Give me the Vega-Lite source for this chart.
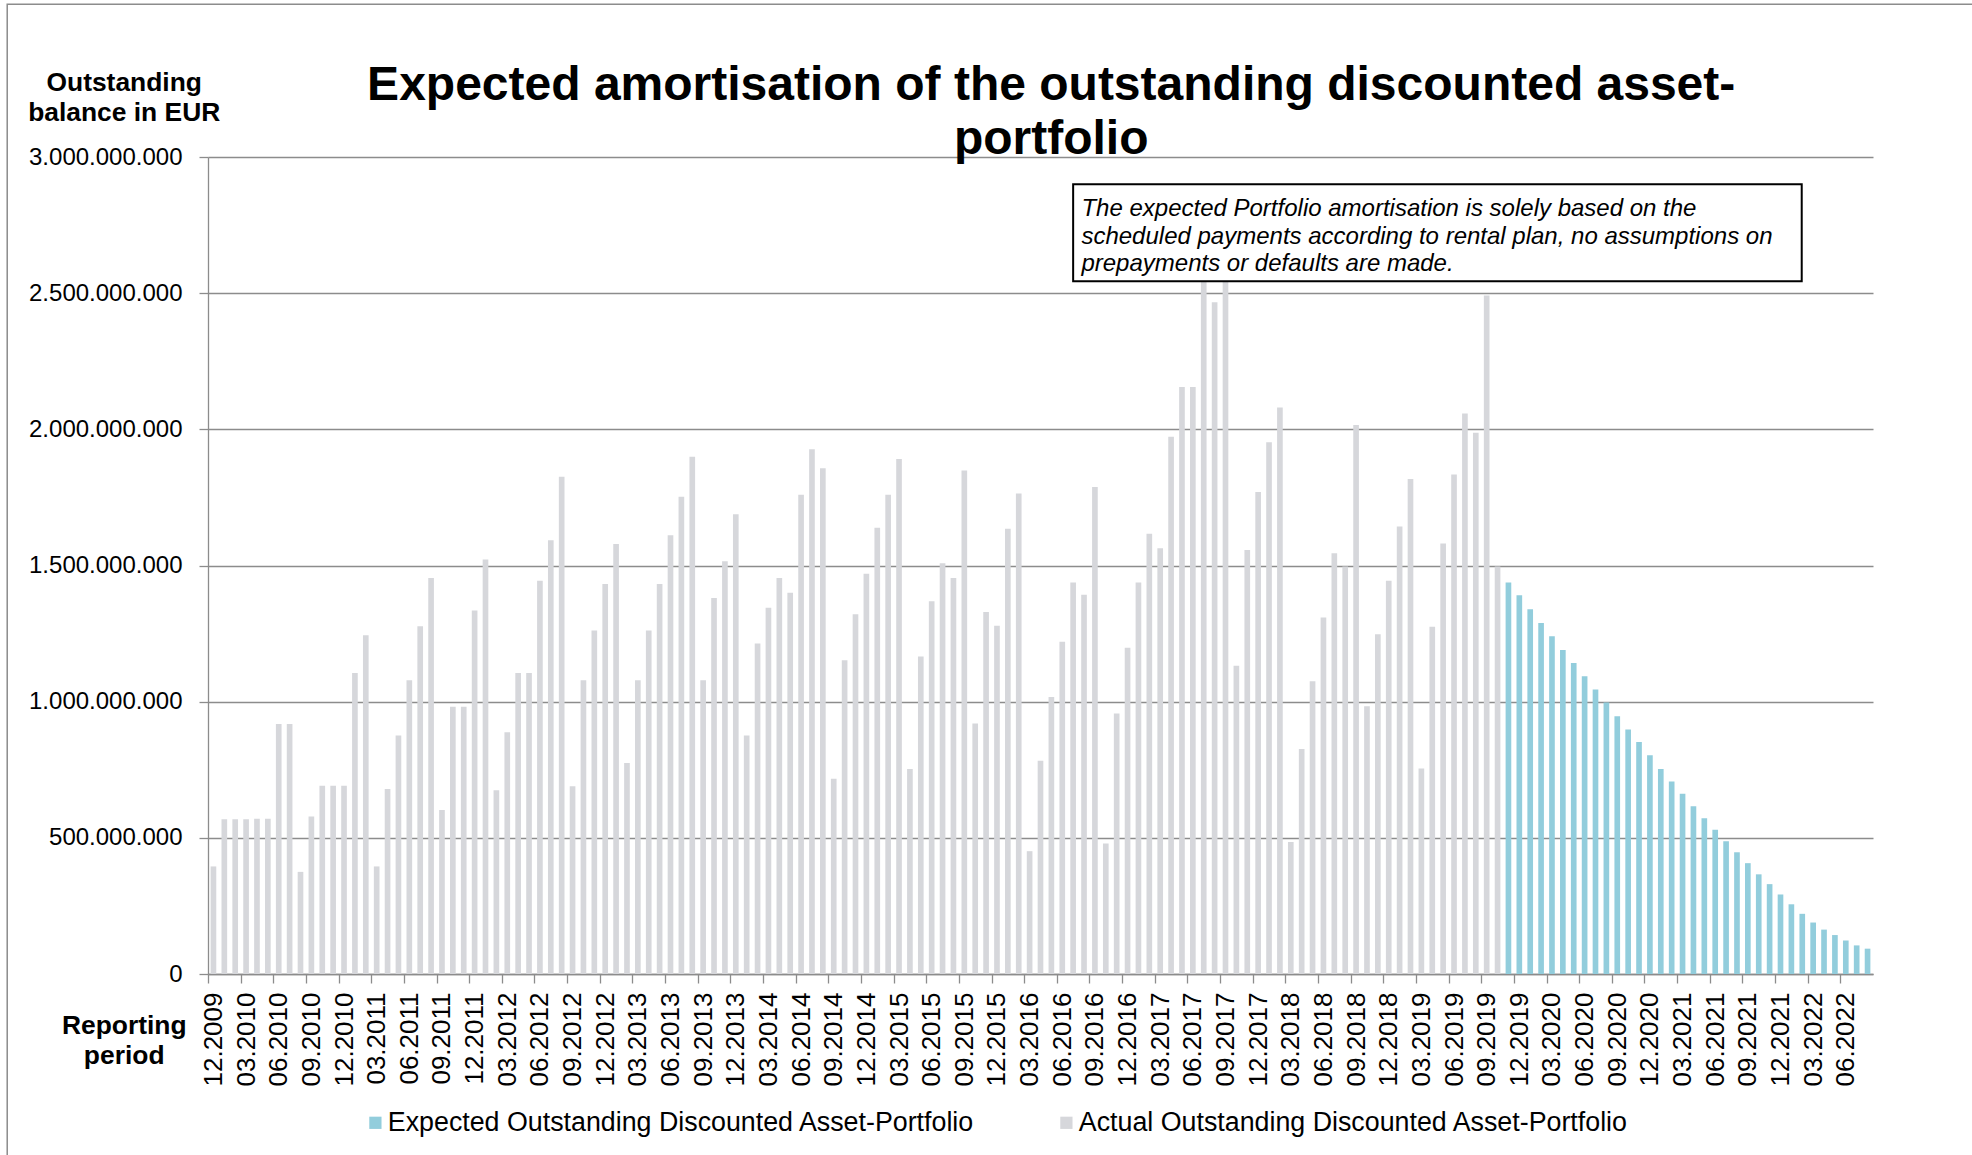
{
  "$schema": "https://vega.github.io/schema/vega-lite/v6.json",
  "width": 1665,
  "height": 817,
  "autosize": {"type": "none"},
  "padding": {"left": 208, "top": 157, "right": 99, "bottom": 181},
  "background": "white",
  "config": {
    "locale": {"number": {"decimal": ",", "thousands": ".", "grouping": [3], "currency": ["", " €"]}},
    "font": "Liberation Sans",
    "view": {"stroke": null}
  },
  "title": {
    "text": ["Expected amortisation of the outstanding discounted asset-", "portfolio"],
    "font": "Liberation Sans",
    "fontSize": 48,
    "fontWeight": "bold",
    "color": "black",
    "anchor": "middle",
    "frame": "group",
    "lineHeight": 54,
    "dx": 10.7,
    "offset": -161
  },
  "data": {
    "values": [
      {"p": "12.2009", "v": 395000000, "s": "Actual Outstanding Discounted Asset-Portfolio"},
      {"p": "01.2010", "v": 568000000, "s": "Actual Outstanding Discounted Asset-Portfolio"},
      {"p": "02.2010", "v": 568000000, "s": "Actual Outstanding Discounted Asset-Portfolio"},
      {"p": "03.2010", "v": 568000000, "s": "Actual Outstanding Discounted Asset-Portfolio"},
      {"p": "04.2010", "v": 570000000, "s": "Actual Outstanding Discounted Asset-Portfolio"},
      {"p": "05.2010", "v": 570000000, "s": "Actual Outstanding Discounted Asset-Portfolio"},
      {"p": "06.2010", "v": 918000000, "s": "Actual Outstanding Discounted Asset-Portfolio"},
      {"p": "07.2010", "v": 918000000, "s": "Actual Outstanding Discounted Asset-Portfolio"},
      {"p": "08.2010", "v": 375000000, "s": "Actual Outstanding Discounted Asset-Portfolio"},
      {"p": "09.2010", "v": 578000000, "s": "Actual Outstanding Discounted Asset-Portfolio"},
      {"p": "10.2010", "v": 691000000, "s": "Actual Outstanding Discounted Asset-Portfolio"},
      {"p": "11.2010", "v": 691000000, "s": "Actual Outstanding Discounted Asset-Portfolio"},
      {"p": "12.2010", "v": 691000000, "s": "Actual Outstanding Discounted Asset-Portfolio"},
      {"p": "01.2011", "v": 1105000000, "s": "Actual Outstanding Discounted Asset-Portfolio"},
      {"p": "02.2011", "v": 1244000000, "s": "Actual Outstanding Discounted Asset-Portfolio"},
      {"p": "03.2011", "v": 395000000, "s": "Actual Outstanding Discounted Asset-Portfolio"},
      {"p": "04.2011", "v": 679000000, "s": "Actual Outstanding Discounted Asset-Portfolio"},
      {"p": "05.2011", "v": 876000000, "s": "Actual Outstanding Discounted Asset-Portfolio"},
      {"p": "06.2011", "v": 1079000000, "s": "Actual Outstanding Discounted Asset-Portfolio"},
      {"p": "07.2011", "v": 1277000000, "s": "Actual Outstanding Discounted Asset-Portfolio"},
      {"p": "08.2011", "v": 1454000000, "s": "Actual Outstanding Discounted Asset-Portfolio"},
      {"p": "09.2011", "v": 602000000, "s": "Actual Outstanding Discounted Asset-Portfolio"},
      {"p": "10.2011", "v": 981000000, "s": "Actual Outstanding Discounted Asset-Portfolio"},
      {"p": "11.2011", "v": 981000000, "s": "Actual Outstanding Discounted Asset-Portfolio"},
      {"p": "12.2011", "v": 1335000000, "s": "Actual Outstanding Discounted Asset-Portfolio"},
      {"p": "01.2012", "v": 1522000000, "s": "Actual Outstanding Discounted Asset-Portfolio"},
      {"p": "02.2012", "v": 675000000, "s": "Actual Outstanding Discounted Asset-Portfolio"},
      {"p": "03.2012", "v": 888000000, "s": "Actual Outstanding Discounted Asset-Portfolio"},
      {"p": "04.2012", "v": 1105000000, "s": "Actual Outstanding Discounted Asset-Portfolio"},
      {"p": "05.2012", "v": 1105000000, "s": "Actual Outstanding Discounted Asset-Portfolio"},
      {"p": "06.2012", "v": 1444000000, "s": "Actual Outstanding Discounted Asset-Portfolio"},
      {"p": "07.2012", "v": 1593000000, "s": "Actual Outstanding Discounted Asset-Portfolio"},
      {"p": "08.2012", "v": 1826000000, "s": "Actual Outstanding Discounted Asset-Portfolio"},
      {"p": "09.2012", "v": 689000000, "s": "Actual Outstanding Discounted Asset-Portfolio"},
      {"p": "10.2012", "v": 1079000000, "s": "Actual Outstanding Discounted Asset-Portfolio"},
      {"p": "11.2012", "v": 1261000000, "s": "Actual Outstanding Discounted Asset-Portfolio"},
      {"p": "12.2012", "v": 1432000000, "s": "Actual Outstanding Discounted Asset-Portfolio"},
      {"p": "01.2013", "v": 1579000000, "s": "Actual Outstanding Discounted Asset-Portfolio"},
      {"p": "02.2013", "v": 775000000, "s": "Actual Outstanding Discounted Asset-Portfolio"},
      {"p": "03.2013", "v": 1079000000, "s": "Actual Outstanding Discounted Asset-Portfolio"},
      {"p": "04.2013", "v": 1261000000, "s": "Actual Outstanding Discounted Asset-Portfolio"},
      {"p": "05.2013", "v": 1432000000, "s": "Actual Outstanding Discounted Asset-Portfolio"},
      {"p": "06.2013", "v": 1611000000, "s": "Actual Outstanding Discounted Asset-Portfolio"},
      {"p": "07.2013", "v": 1752000000, "s": "Actual Outstanding Discounted Asset-Portfolio"},
      {"p": "08.2013", "v": 1899000000, "s": "Actual Outstanding Discounted Asset-Portfolio"},
      {"p": "09.2013", "v": 1079000000, "s": "Actual Outstanding Discounted Asset-Portfolio"},
      {"p": "10.2013", "v": 1381000000, "s": "Actual Outstanding Discounted Asset-Portfolio"},
      {"p": "11.2013", "v": 1516000000, "s": "Actual Outstanding Discounted Asset-Portfolio"},
      {"p": "12.2013", "v": 1688000000, "s": "Actual Outstanding Discounted Asset-Portfolio"},
      {"p": "01.2014", "v": 876000000, "s": "Actual Outstanding Discounted Asset-Portfolio"},
      {"p": "02.2014", "v": 1214000000, "s": "Actual Outstanding Discounted Asset-Portfolio"},
      {"p": "03.2014", "v": 1345000000, "s": "Actual Outstanding Discounted Asset-Portfolio"},
      {"p": "04.2014", "v": 1454000000, "s": "Actual Outstanding Discounted Asset-Portfolio"},
      {"p": "05.2014", "v": 1400000000, "s": "Actual Outstanding Discounted Asset-Portfolio"},
      {"p": "06.2014", "v": 1760000000, "s": "Actual Outstanding Discounted Asset-Portfolio"},
      {"p": "07.2014", "v": 1927000000, "s": "Actual Outstanding Discounted Asset-Portfolio"},
      {"p": "08.2014", "v": 1857000000, "s": "Actual Outstanding Discounted Asset-Portfolio"},
      {"p": "09.2014", "v": 717000000, "s": "Actual Outstanding Discounted Asset-Portfolio"},
      {"p": "10.2014", "v": 1152000000, "s": "Actual Outstanding Discounted Asset-Portfolio"},
      {"p": "11.2014", "v": 1321000000, "s": "Actual Outstanding Discounted Asset-Portfolio"},
      {"p": "12.2014", "v": 1470000000, "s": "Actual Outstanding Discounted Asset-Portfolio"},
      {"p": "01.2015", "v": 1639000000, "s": "Actual Outstanding Discounted Asset-Portfolio"},
      {"p": "02.2015", "v": 1760000000, "s": "Actual Outstanding Discounted Asset-Portfolio"},
      {"p": "03.2015", "v": 1891000000, "s": "Actual Outstanding Discounted Asset-Portfolio"},
      {"p": "04.2015", "v": 753000000, "s": "Actual Outstanding Discounted Asset-Portfolio"},
      {"p": "05.2015", "v": 1166000000, "s": "Actual Outstanding Discounted Asset-Portfolio"},
      {"p": "06.2015", "v": 1369000000, "s": "Actual Outstanding Discounted Asset-Portfolio"},
      {"p": "07.2015", "v": 1508000000, "s": "Actual Outstanding Discounted Asset-Portfolio"},
      {"p": "08.2015", "v": 1454000000, "s": "Actual Outstanding Discounted Asset-Portfolio"},
      {"p": "09.2015", "v": 1849000000, "s": "Actual Outstanding Discounted Asset-Portfolio"},
      {"p": "10.2015", "v": 920000000, "s": "Actual Outstanding Discounted Asset-Portfolio"},
      {"p": "11.2015", "v": 1329000000, "s": "Actual Outstanding Discounted Asset-Portfolio"},
      {"p": "12.2015", "v": 1279000000, "s": "Actual Outstanding Discounted Asset-Portfolio"},
      {"p": "01.2016", "v": 1635000000, "s": "Actual Outstanding Discounted Asset-Portfolio"},
      {"p": "02.2016", "v": 1764000000, "s": "Actual Outstanding Discounted Asset-Portfolio"},
      {"p": "03.2016", "v": 451000000, "s": "Actual Outstanding Discounted Asset-Portfolio"},
      {"p": "04.2016", "v": 783000000, "s": "Actual Outstanding Discounted Asset-Portfolio"},
      {"p": "05.2016", "v": 1017000000, "s": "Actual Outstanding Discounted Asset-Portfolio"},
      {"p": "06.2016", "v": 1220000000, "s": "Actual Outstanding Discounted Asset-Portfolio"},
      {"p": "07.2016", "v": 1438000000, "s": "Actual Outstanding Discounted Asset-Portfolio"},
      {"p": "08.2016", "v": 1393000000, "s": "Actual Outstanding Discounted Asset-Portfolio"},
      {"p": "09.2016", "v": 1788000000, "s": "Actual Outstanding Discounted Asset-Portfolio"},
      {"p": "10.2016", "v": 479000000, "s": "Actual Outstanding Discounted Asset-Portfolio"},
      {"p": "11.2016", "v": 957000000, "s": "Actual Outstanding Discounted Asset-Portfolio"},
      {"p": "12.2016", "v": 1198000000, "s": "Actual Outstanding Discounted Asset-Portfolio"},
      {"p": "01.2017", "v": 1438000000, "s": "Actual Outstanding Discounted Asset-Portfolio"},
      {"p": "02.2017", "v": 1617000000, "s": "Actual Outstanding Discounted Asset-Portfolio"},
      {"p": "03.2017", "v": 1563000000, "s": "Actual Outstanding Discounted Asset-Portfolio"},
      {"p": "04.2017", "v": 1973000000, "s": "Actual Outstanding Discounted Asset-Portfolio"},
      {"p": "05.2017", "v": 2155000000, "s": "Actual Outstanding Discounted Asset-Portfolio"},
      {"p": "06.2017", "v": 2155000000, "s": "Actual Outstanding Discounted Asset-Portfolio"},
      {"p": "07.2017", "v": 2620000000, "s": "Actual Outstanding Discounted Asset-Portfolio"},
      {"p": "08.2017", "v": 2467000000, "s": "Actual Outstanding Discounted Asset-Portfolio"},
      {"p": "09.2017", "v": 2620000000, "s": "Actual Outstanding Discounted Asset-Portfolio"},
      {"p": "10.2017", "v": 1132000000, "s": "Actual Outstanding Discounted Asset-Portfolio"},
      {"p": "11.2017", "v": 1557000000, "s": "Actual Outstanding Discounted Asset-Portfolio"},
      {"p": "12.2017", "v": 1770000000, "s": "Actual Outstanding Discounted Asset-Portfolio"},
      {"p": "01.2018", "v": 1953000000, "s": "Actual Outstanding Discounted Asset-Portfolio"},
      {"p": "02.2018", "v": 2080000000, "s": "Actual Outstanding Discounted Asset-Portfolio"},
      {"p": "03.2018", "v": 485000000, "s": "Actual Outstanding Discounted Asset-Portfolio"},
      {"p": "04.2018", "v": 826000000, "s": "Actual Outstanding Discounted Asset-Portfolio"},
      {"p": "05.2018", "v": 1075000000, "s": "Actual Outstanding Discounted Asset-Portfolio"},
      {"p": "06.2018", "v": 1309000000, "s": "Actual Outstanding Discounted Asset-Portfolio"},
      {"p": "07.2018", "v": 1545000000, "s": "Actual Outstanding Discounted Asset-Portfolio"},
      {"p": "08.2018", "v": 1496000000, "s": "Actual Outstanding Discounted Asset-Portfolio"},
      {"p": "09.2018", "v": 2016000000, "s": "Actual Outstanding Discounted Asset-Portfolio"},
      {"p": "10.2018", "v": 983000000, "s": "Actual Outstanding Discounted Asset-Portfolio"},
      {"p": "11.2018", "v": 1248000000, "s": "Actual Outstanding Discounted Asset-Portfolio"},
      {"p": "12.2018", "v": 1444000000, "s": "Actual Outstanding Discounted Asset-Portfolio"},
      {"p": "01.2019", "v": 1643000000, "s": "Actual Outstanding Discounted Asset-Portfolio"},
      {"p": "02.2019", "v": 1818000000, "s": "Actual Outstanding Discounted Asset-Portfolio"},
      {"p": "03.2019", "v": 755000000, "s": "Actual Outstanding Discounted Asset-Portfolio"},
      {"p": "04.2019", "v": 1275000000, "s": "Actual Outstanding Discounted Asset-Portfolio"},
      {"p": "05.2019", "v": 1581000000, "s": "Actual Outstanding Discounted Asset-Portfolio"},
      {"p": "06.2019", "v": 1834000000, "s": "Actual Outstanding Discounted Asset-Portfolio"},
      {"p": "07.2019", "v": 2058000000, "s": "Actual Outstanding Discounted Asset-Portfolio"},
      {"p": "08.2019", "v": 1987000000, "s": "Actual Outstanding Discounted Asset-Portfolio"},
      {"p": "09.2019", "v": 2491000000, "s": "Actual Outstanding Discounted Asset-Portfolio"},
      {"p": "10.2019", "v": 1496000000, "s": "Actual Outstanding Discounted Asset-Portfolio"},
      {"p": "11.2019", "v": 1438000000, "s": "Expected Outstanding Discounted Asset-Portfolio"},
      {"p": "12.2019", "v": 1391000000, "s": "Expected Outstanding Discounted Asset-Portfolio"},
      {"p": "01.2020", "v": 1339000000, "s": "Expected Outstanding Discounted Asset-Portfolio"},
      {"p": "02.2020", "v": 1289000000, "s": "Expected Outstanding Discounted Asset-Portfolio"},
      {"p": "03.2020", "v": 1240000000, "s": "Expected Outstanding Discounted Asset-Portfolio"},
      {"p": "04.2020", "v": 1190000000, "s": "Expected Outstanding Discounted Asset-Portfolio"},
      {"p": "05.2020", "v": 1142000000, "s": "Expected Outstanding Discounted Asset-Portfolio"},
      {"p": "06.2020", "v": 1093000000, "s": "Expected Outstanding Discounted Asset-Portfolio"},
      {"p": "07.2020", "v": 1045000000, "s": "Expected Outstanding Discounted Asset-Portfolio"},
      {"p": "08.2020", "v": 997000000, "s": "Expected Outstanding Discounted Asset-Portfolio"},
      {"p": "09.2020", "v": 946000000, "s": "Expected Outstanding Discounted Asset-Portfolio"},
      {"p": "10.2020", "v": 898000000, "s": "Expected Outstanding Discounted Asset-Portfolio"},
      {"p": "11.2020", "v": 852000000, "s": "Expected Outstanding Discounted Asset-Portfolio"},
      {"p": "12.2020", "v": 803000000, "s": "Expected Outstanding Discounted Asset-Portfolio"},
      {"p": "01.2021", "v": 753000000, "s": "Expected Outstanding Discounted Asset-Portfolio"},
      {"p": "02.2021", "v": 707000000, "s": "Expected Outstanding Discounted Asset-Portfolio"},
      {"p": "03.2021", "v": 662000000, "s": "Expected Outstanding Discounted Asset-Portfolio"},
      {"p": "04.2021", "v": 616000000, "s": "Expected Outstanding Discounted Asset-Portfolio"},
      {"p": "05.2021", "v": 572000000, "s": "Expected Outstanding Discounted Asset-Portfolio"},
      {"p": "06.2021", "v": 530000000, "s": "Expected Outstanding Discounted Asset-Portfolio"},
      {"p": "07.2021", "v": 487000000, "s": "Expected Outstanding Discounted Asset-Portfolio"},
      {"p": "08.2021", "v": 447000000, "s": "Expected Outstanding Discounted Asset-Portfolio"},
      {"p": "09.2021", "v": 407000000, "s": "Expected Outstanding Discounted Asset-Portfolio"},
      {"p": "10.2021", "v": 366000000, "s": "Expected Outstanding Discounted Asset-Portfolio"},
      {"p": "11.2021", "v": 330000000, "s": "Expected Outstanding Discounted Asset-Portfolio"},
      {"p": "12.2021", "v": 292000000, "s": "Expected Outstanding Discounted Asset-Portfolio"},
      {"p": "01.2022", "v": 256000000, "s": "Expected Outstanding Discounted Asset-Portfolio"},
      {"p": "02.2022", "v": 221000000, "s": "Expected Outstanding Discounted Asset-Portfolio"},
      {"p": "03.2022", "v": 189000000, "s": "Expected Outstanding Discounted Asset-Portfolio"},
      {"p": "04.2022", "v": 163000000, "s": "Expected Outstanding Discounted Asset-Portfolio"},
      {"p": "05.2022", "v": 143000000, "s": "Expected Outstanding Discounted Asset-Portfolio"},
      {"p": "06.2022", "v": 123000000, "s": "Expected Outstanding Discounted Asset-Portfolio"},
      {"p": "07.2022", "v": 105000000, "s": "Expected Outstanding Discounted Asset-Portfolio"},
      {"p": "08.2022", "v": 93000000, "s": "Expected Outstanding Discounted Asset-Portfolio"}
    ]
  },
  "layer": [
    {
      "mark": {"type": "bar"},
      "encoding": {
        "x": {
          "field": "p",
          "type": "ordinal",
          "sort": null,
          "scale": {"paddingInner": 0.48, "paddingOuter": 0.24},
          "axis": {
            "values": ["12.2009", "03.2010", "06.2010", "09.2010", "12.2010", "03.2011", "06.2011", "09.2011", "12.2011", "03.2012", "06.2012", "09.2012", "12.2012", "03.2013", "06.2013", "09.2013", "12.2013", "03.2014", "06.2014", "09.2014", "12.2014", "03.2015", "06.2015", "09.2015", "12.2015", "03.2016", "06.2016", "09.2016", "12.2016", "03.2017", "06.2017", "09.2017", "12.2017", "03.2018", "06.2018", "09.2018", "12.2018", "03.2019", "06.2019", "09.2019", "12.2019", "03.2020", "06.2020", "09.2020", "12.2020", "03.2021", "06.2021", "09.2021", "12.2021", "03.2022", "06.2022"],
            "bandPosition": 0.5,
            "tickOffset": -5.441,
            "labelOffset": 5.441,
            "labelAngle": 270,
            "labelAlign": "right",
            "labelBaseline": "middle",
            "labelFont": "Liberation Sans",
            "labelFontSize": 26,
            "labelColor": "black",
            "labelPadding": 9,
            "labelOverlap": false,
            "labelBound": false,
            "labelFlush": false,
            "tickSize": 9,
            "tickColor": "#8C8C8C",
            "tickWidth": 1.3,
            "domainColor": "#8C8C8C",
            "domainWidth": 1.3,
            "grid": false,
            "title": ["Reporting", "period"],
            "titleX": -84.3,
            "titleY": 59,
            "titleAngle": 0,
            "titleAlign": "center",
            "titleBaseline": "alphabetic",
            "titleFont": "Liberation Sans",
            "titleFontSize": 26.4,
            "titleFontWeight": "bold",
            "titleLineHeight": 30,
            "titleColor": "black"
          }
        },
        "y": {
          "field": "v",
          "type": "quantitative",
          "scale": {"domain": [0, 3000000000], "nice": false},
          "axis": {
            "values": [0, 500000000, 1000000000, 1500000000, 2000000000, 2500000000, 3000000000],
            "format": ",d",
            "labelFont": "Liberation Sans",
            "labelFontSize": 24,
            "labelColor": "black",
            "labelPadding": 17,
            "tickSize": 9,
            "tickColor": "#8C8C8C",
            "tickWidth": 1.3,
            "domainColor": "#8C8C8C",
            "domainWidth": 1.3,
            "grid": true,
            "gridColor": "#8C8C8C",
            "gridWidth": 1.3,
            "title": ["Outstanding", "balance in EUR"],
            "titleX": -84.3,
            "titleY": -66.7,
            "titleAngle": 0,
            "titleAlign": "center",
            "titleBaseline": "alphabetic",
            "titleFont": "Liberation Sans",
            "titleFontSize": 26.4,
            "titleFontWeight": "bold",
            "titleLineHeight": 30,
            "titleColor": "black"
          }
        },
        "color": {
          "field": "s",
          "type": "nominal",
          "scale": {
            "domain": ["Expected Outstanding Discounted Asset-Portfolio", "Actual Outstanding Discounted Asset-Portfolio"],
            "range": ["#92CDDC", "#D6D7DB"]
          },
          "legend": {
            "orient": "none",
            "legendX": 154,
            "legendY": 952,
            "direction": "horizontal",
            "title": null,
            "padding": 0,
            "labelFont": "Liberation Sans",
            "labelFontSize": 26.8,
            "labelColor": "black",
            "labelLimit": 1000,
            "labelOffset": -1,
            "symbolType": "square",
            "symbolSize": 150,
            "symbolStrokeWidth": 0,
            "symbolOpacity": 1,
            "columnPadding": 78
          }
        }
      }
    },
    {
      "data": {"values": [{}]},
      "mark": {"type": "rect", "fill": "white", "stroke": "black", "strokeWidth": 2, "clip": false},
      "encoding": {
        "x": {"datum": 79.5, "type": "quantitative", "scale": {"domain": [0, 153], "nice": false, "zero": false}, "axis": null},
        "x2": {"datum": 146.45},
        "y": {"datum": 2900000000, "type": "quantitative", "scale": {"domain": [0, 3000000000], "nice": false}, "axis": null},
        "y2": {"datum": 2543800000}
      }
    },
    {
      "data": {"values": [{}]},
      "mark": {"type": "text", "align": "left", "baseline": "alphabetic", "font": "Liberation Sans", "fontStyle": "italic", "fontSize": 24, "lineHeight": 27.7, "color": "black", "clip": false},
      "encoding": {
        "x": {"datum": 80.26, "type": "quantitative", "scale": {"domain": [0, 153], "nice": false, "zero": false}, "axis": null},
        "y": {"datum": 2783000000, "type": "quantitative", "scale": {"domain": [0, 3000000000], "nice": false}, "axis": null},
        "text": {"value": ["The expected Portfolio amortisation is solely based on the", "scheduled payments according to rental plan, no assumptions on", "prepayments or defaults are made."]}
      }
    },
    {
      "data": {"values": [{}]},
      "mark": {"type": "rect", "filled": false, "stroke": "#8C8C8C", "strokeWidth": 1.5, "clip": false},
      "encoding": {
        "x": {"datum": -18.45, "type": "quantitative", "scale": {"domain": [0, 153], "nice": false, "zero": false}, "axis": null},
        "x2": {"datum": 200},
        "y": {"datum": 3561000000, "type": "quantitative", "scale": {"domain": [0, 3000000000], "nice": false}, "axis": null},
        "y2": {"datum": -2000000000}
      }
    }
  ],
  "resolve": {"scale": {"x": "independent", "y": "independent"}}
}
